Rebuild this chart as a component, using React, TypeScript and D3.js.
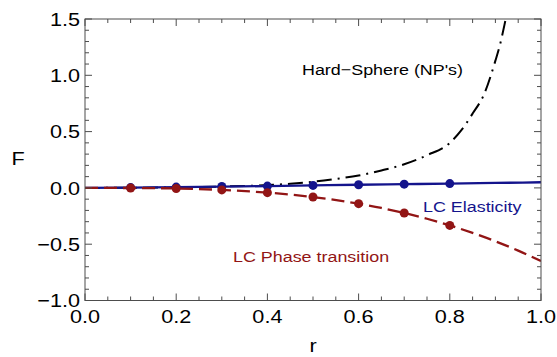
import React from "react";
import * as d3 from "d3";

const W = 557, H = 357;
const M = { left: 85, right: 16, top: 19, bottom: 56.5 };

// LC Elasticity (solid blue line + markers)
const elasticR = [0, 0.1, 0.2, 0.3, 0.4, 0.5, 0.6, 0.7, 0.8, 0.9, 1.0];
const elasticF = [0, 0.003, 0.007, 0.012, 0.016, 0.022, 0.028, 0.033, 0.038, 0.044, 0.05];
const elasticPtsR = [0.1, 0.2, 0.3, 0.4, 0.5, 0.6, 0.7, 0.8];
const elasticPtsF = [0.003, 0.007, 0.012, 0.016, 0.022, 0.028, 0.033, 0.038];

// LC Phase transition (dashed red line + markers)
const phaseR = [0, 0.1, 0.2, 0.3, 0.4, 0.5, 0.6, 0.65, 0.7, 0.75, 0.8, 0.85, 0.9, 0.95, 1.0];
const phaseF = [0, -0.001, -0.005, -0.018, -0.042, -0.081, -0.14, -0.178, -0.223, -0.274, -0.333, -0.4, -0.474, -0.557, -0.65];
const phasePtsR = [0.1, 0.2, 0.3, 0.4, 0.5, 0.6, 0.7, 0.8];
const phasePtsF = [-0.001, -0.005, -0.018, -0.042, -0.081, -0.14, -0.223, -0.333];

// Hard-Sphere (NP's) (dash-dot black line)
const hsR = [0, 0.1, 0.2, 0.3, 0.4, 0.45, 0.5, 0.55, 0.6, 0.65, 0.7, 0.75, 0.8, 0.825, 0.85, 0.875, 0.9, 0.91, 0.92, 0.93];
const hsF = [0, 0.001, 0.005, 0.012, 0.025, 0.037, 0.055, 0.08, 0.11, 0.155, 0.21, 0.29, 0.4, 0.51, 0.66, 0.83, 1.13, 1.27, 1.45, 1.65];

const xTicks = [0, 0.2, 0.4, 0.6, 0.8, 1.0];
const yTicks = [-1.0, -0.5, 0.0, 0.5, 1.0, 1.5];
const xLabels = ["0.0", "0.2", "0.4", "0.6", "0.8", "1.0"];
const yLabels = ["\u22121.0", "\u22120.5", "0.0", "0.5", "1.0", "1.5"];

const BLUE = "#14148c";
const RED = "#921515";
const FRAME = "#4d4d4d";
const FONT = "'Liberation Sans', Arial, Helvetica, sans-serif";
const SX = 1.17;

function T({ x, y, anchor = "start", size = 15, fill = "#000", children }: any) {
  return (
    <g transform={`translate(${x},${y}) scale(${SX},1)`}>
      <text x={0} y={0} textAnchor={anchor} fontSize={size} fill={fill} fontFamily={FONT}>
        {children}
      </text>
    </g>
  );
}

export default function App() {
  const x = d3.scaleLinear().domain([0, 1]).range([M.left, W - M.right]);
  const y = d3.scaleLinear().domain([-1, 1.5]).range([H - M.bottom, M.top]);
  const x0 = x(0), x1 = x(1), y0 = y(-1), y1 = y(1.5);

  const line = (rs: number[], fs: number[]) =>
    d3.line<number>().x((_, i) => x(rs[i])).y((_, i) => y(fs[i])).curve(d3.curveMonotoneX)(rs) || "";

  const xMinor = d3.range(0, 1.0001, 0.05).filter((v) => Math.abs(v * 5 - Math.round(v * 5)) > 1e-6);
  const yMinor = d3.range(-1, 1.5001, 0.1).filter((v) => Math.abs(v * 2 - Math.round(v * 2)) > 1e-6);
  const MJ = 7, MN = 4;

  return (
    <svg width={W} height={H} style={{ position: "absolute", left: 0, top: 0, background: "#fff" }}>
      <defs>
        <clipPath id="plot">
          <rect x={x0} y={y1} width={x1 - x0} height={y0 - y1} />
        </clipPath>
      </defs>
      <g clipPath="url(#plot)" fill="none">
        <path d={line(hsR, hsF)} stroke="#000" strokeWidth={2} strokeDasharray="15 6 2 6" />
        <path d={line(elasticR, elasticF)} stroke={BLUE} strokeWidth={2.3} />
        <path d={line(phaseR, phaseF)} stroke={RED} strokeWidth={2.3} strokeDasharray="13 6" />
      </g>
      {elasticPtsR.map((r, i) => (
        <circle key={"b" + i} cx={x(r)} cy={y(elasticPtsF[i])} r={4.5} fill={BLUE} />
      ))}
      {phasePtsR.map((r, i) => (
        <circle key={"r" + i} cx={x(r)} cy={y(phasePtsF[i])} r={4.5} fill={RED} />
      ))}

      {/* frame */}
      <rect x={x0} y={y1} width={x1 - x0} height={y0 - y1} fill="none" stroke={FRAME} strokeWidth={1} />
      <g stroke={FRAME} strokeWidth={1}>
        {xTicks.map((v, i) => (
          <g key={"xt" + i}>
            <line x1={x(v)} x2={x(v)} y1={y0} y2={y0 - MJ} />
            <line x1={x(v)} x2={x(v)} y1={y1} y2={y1 + MJ} />
          </g>
        ))}
        {xMinor.map((v, i) => (
          <g key={"xm" + i}>
            <line x1={x(v)} x2={x(v)} y1={y0} y2={y0 - MN} />
            <line x1={x(v)} x2={x(v)} y1={y1} y2={y1 + MN} />
          </g>
        ))}
        {yTicks.map((v, i) => (
          <g key={"yt" + i}>
            <line x1={x0} x2={x0 + MJ} y1={y(v)} y2={y(v)} />
            <line x1={x1} x2={x1 - MJ} y1={y(v)} y2={y(v)} />
          </g>
        ))}
        {yMinor.map((v, i) => (
          <g key={"ym" + i}>
            <line x1={x0} x2={x0 + MN} y1={y(v)} y2={y(v)} />
            <line x1={x1} x2={x1 - MN} y1={y(v)} y2={y(v)} />
          </g>
        ))}
      </g>

      {xTicks.map((v, i) => (
        <T key={"xl" + i} x={x(v)} y={y0 + 22.5} anchor="middle" size={18.5}>{xLabels[i]}</T>
      ))}
      {yTicks.map((v, i) => (
        <T key={"yl" + i} x={x0 - 5} y={y(v) + 6.6} anchor="end" size={18.5}>{yLabels[i]}</T>
      ))}

      <T x={18} y={165} anchor="middle" size={18.5}>F</T>
      <T x={313} y={352} anchor="middle" size={18.5}>r</T>

      <T x={302} y={75} size={15.3}>Hard{"\u2212"}Sphere (NP's)</T>
      <T x={423} y={211.5} size={15.3} fill={BLUE}>LC Elasticity</T>
      <T x={233} y={261.5} size={15.3} fill={RED}>LC Phase transition</T>
    </svg>
  );
}
